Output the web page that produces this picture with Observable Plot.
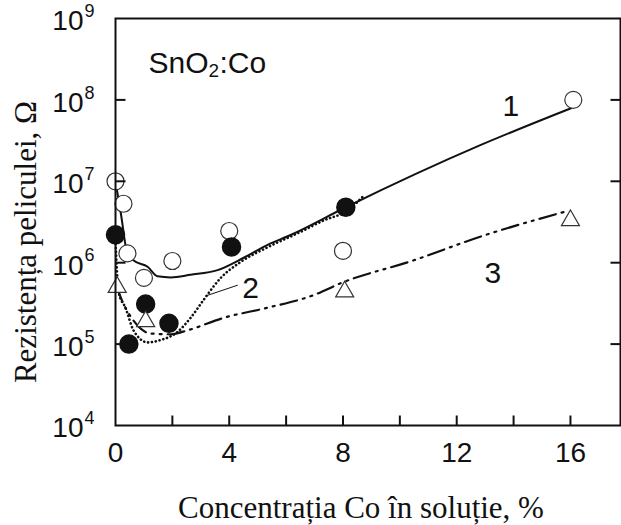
<!DOCTYPE html>
<html><head><meta charset="utf-8">
<script src="https://cdn.jsdelivr.net/npm/d3@7"></script>
<script src="https://cdn.jsdelivr.net/npm/@observablehq/plot@0.6"></script>
<style>body{margin:0;background:#fff} svg{display:block}</style>
</head><body><div id="chart"></div>
<script>
// Measured points (x = Co concentration %, r = resistance, Ohm)
const openX = [0, 0.28, 0.42, 1.0, 2.0, 4.0, 8.0, 16.1];
const openR = [1.0e7, 5.3e6, 1.3e6, 6.5e5, 1.05e6, 2.45e6, 1.4e6, 1.0e8];
const filledX = [0, 0.47, 1.06, 1.88, 4.08, 8.1];
const filledR = [2.2e6, 1.0e5, 3.1e5, 1.8e5, 1.56e6, 4.8e6];
const triX = [0.06, 1.06, 8.06, 16.0];
const triR = [5.0e5, 1.9e5, 4.4e5, 3.3e6];

// Fitted curves
const curve1X = [0, 0.2, 0.39, 0.63, 1.13, 1.48, 1.94, 2.64, 3.59, 4.51, 5.35, 6.16, 8.1, 12.85, 16.02];
const curve1R = [1.0e7, 3.8e6, 1.43e6, 1.07e6, 8.9e5, 6.8e5, 6.6e5, 7.1e5, 8.1e5, 1.15e6, 1.66e6, 2.19e6, 4.8e6, 2.8e7, 7.9e7];
const curve2X = [0, 0.05, 0.12, 0.35, 0.63, 1.13, 1.58, 2.18, 2.64, 3.1, 3.7, 4.4, 5.35, 6.41, 7.32, 8.17, 8.7];
const curve2R = [1.9e6, 8.0e5, 4.2e5, 2.8e5, 1.48e5, 1.05e5, 1.12e5, 1.41e5, 2.1e5, 3.5e5, 6.5e5, 1.02e6, 1.55e6, 2.3e6, 3.3e6, 4.4e6, 6.5e6];
const curve3X = [0.03, 0.25, 0.63, 1.23, 1.94, 2.54, 3.8, 5.35, 6.97, 7.92, 10.49, 12.85, 15.77];
const curve3R = [5.2e5, 3.3e5, 1.95e5, 1.35e5, 1.32e5, 1.48e5, 2.1e5, 2.8e5, 4.0e5, 5.6e5, 1.07e6, 2.1e6, 4.2e6];

// Axis ticks and labels
const xTickVals = [2, 4, 6, 8, 10, 12, 14, 16];
const xTickLabels = [0, 4, 8, 12, 16];
const yTickExps = [4, 5, 6, 7, 8, 9];
const yInnerTicks = [1e5, 1e6, 1e7, 1e8];

// Curve number labels
const curveNames = ["1", "2", "3"];
const curveNameX = [13.9, 4.75, 13.27];
const curveNameR = [8.3e7, 4.9e5, 7.4e5];

const pts = (xs, rs) => xs.map((x, i) => ({x, r: rs[i]}));
const sans = "'Liberation Sans', Arial, sans-serif";
const serif = "'Liberation Serif', 'Times New Roman', serif";
const ink = "#111";

const tickUp = {draw(c) { c.moveTo(0, 0); c.lineTo(0, -10); }};
const tickRight = {draw(c) { c.moveTo(0, 0); c.lineTo(10, 0); }};
const tickLeft = {draw(c) { c.moveTo(0, 0); c.lineTo(-10, 0); }};

const chart = Plot.plot({
  width: 621,
  height: 525,
  marginLeft: 115,
  marginRight: 1,
  marginTop: 18,
  marginBottom: 100,
  style: {fontFamily: sans, background: "#fff"},
  x: {domain: [0, 17.76], axis: null},
  y: {type: "log", domain: [1e4, 1e9], axis: null},
  marks: [
    Plot.line(pts(curve3X, curve3R), {x: "x", y: "r", curve: "monotone-x", stroke: ink, strokeWidth: 2.2, strokeDasharray: "17,6,2,6,2,6"}),
    Plot.line(pts(curve2X, curve2R), {x: "x", y: "r", curve: "monotone-x", stroke: ink, strokeWidth: 2.6, strokeLinecap: "round", strokeDasharray: "0.1,3.8"}),
    Plot.line(pts(curve1X, curve1R), {x: "x", y: "r", curve: "monotone-x", stroke: ink, strokeWidth: 2}),
    Plot.link([0], {x1: 3.17, y1: 3.9e5, x2: 4.3, y2: 5.3e5, stroke: ink, strokeWidth: 1}),
    Plot.dot(pts(openX, openR), {x: "x", y: "r", r: 8.5, fill: "white", stroke: "#333", strokeWidth: 1.2}),
    Plot.dot(pts(filledX, filledR), {x: "x", y: "r", r: 9, fill: ink, stroke: ink}),
    Plot.dot(pts(triX, triR), {x: "x", y: "r", r: 6.7, symbol: "triangle", fill: "white", stroke: "#333", strokeWidth: 1.2}),
    Plot.frame({stroke: ink, strokeWidth: 2}),
    Plot.dot(xTickVals, {x: d => d, frameAnchor: "bottom", symbol: tickUp, fill: "none", stroke: ink, strokeWidth: 2}),
    Plot.dot(yInnerTicks, {y: d => d, frameAnchor: "left", symbol: tickRight, fill: "none", stroke: ink, strokeWidth: 2}),
    Plot.dot(yInnerTicks, {y: d => d, frameAnchor: "right", symbol: tickLeft, fill: "none", stroke: ink, strokeWidth: 2}),
    Plot.text(xTickLabels, {x: d => d, frameAnchor: "bottom", dy: 28, lineAnchor: "middle", text: d => String(d), fontSize: 28, fill: ink}),
    Plot.text(yTickExps, {y: e => 10 ** e, frameAnchor: "left", dx: -32, dy: 3, lineAnchor: "middle", text: () => "10", textAnchor: "end", fontSize: 28, fill: ink}),
    Plot.text(yTickExps, {y: e => 10 ** e, frameAnchor: "left", dx: -31, dy: -7, lineAnchor: "middle", text: e => String(e), textAnchor: "start", fontSize: 18, fill: ink}),
    Plot.text(curveNames, {x: (d, i) => curveNameX[i], y: (d, i) => curveNameR[i], text: d => d, fontSize: 30, fill: ink}),
    // SnO2:Co label
    Plot.text(["SnO"], {frameAnchor: "top-left", dx: 33, dy: 45, lineAnchor: "middle", text: d => d, textAnchor: "start", fontSize: 30, fill: ink}),
    Plot.text(["2"], {frameAnchor: "top-left", dx: 93, dy: 52, lineAnchor: "middle", text: d => d, textAnchor: "start", fontSize: 19, fill: ink}),
    Plot.text([":Co"], {frameAnchor: "top-left", dx: 104, dy: 45, lineAnchor: "middle", text: d => d, textAnchor: "start", fontSize: 30, fill: ink}),
    // Axis titles
    Plot.text(["Rezistența peliculei, Ω"], {frameAnchor: "left", dx: -89, dy: 20, rotate: -90, textAnchor: "middle", lineAnchor: "middle", text: d => d, fontSize: 31, fontFamily: serif, fill: ink}),
    Plot.text(["Concentrația Co în soluție, %"], {frameAnchor: "bottom", dx: -7, dy: 83, textAnchor: "middle", lineAnchor: "middle", text: d => d, fontSize: 31, fontFamily: serif, fill: ink})
  ]
});
document.getElementById("chart").appendChild(chart);
</script>
</body></html>
